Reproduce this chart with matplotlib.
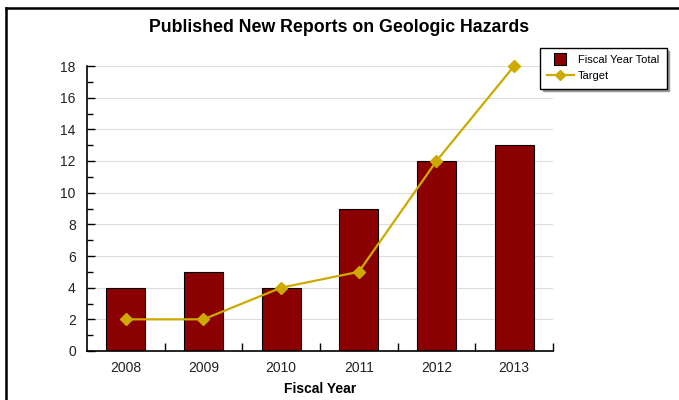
import matplotlib
matplotlib.use("Agg")
import matplotlib.pyplot as plt
from matplotlib.lines import Line2D
from matplotlib.ticker import MultipleLocator

years = ["2008", "2009", "2010", "2011", "2012", "2013"]
fiscal_total = [4, 5, 4, 9, 12, 13]
target = [2, 2, 4, 5, 12, 18]

plt.rcParams['font.family'] = ['Liberation Sans', 'DejaVu Sans']

fig = plt.figure(figsize=(6.79, 4.0), dpi=100)
ax = fig.add_axes([0.128, 0.1225, 0.6864, 0.7125])

bar_color = '#8B0000'
line_color = '#CCAA00'

x = list(range(len(years)))
ax.bar(x, fiscal_total, width=0.5, color=bar_color, edgecolor='black', linewidth=0.8, zorder=2)
ax.plot(x, target, color=line_color, linewidth=1.6, marker='D', markersize=6,
        zorder=3, clip_on=False)

ax.set_xlim(-0.5, len(years) - 0.5)
ax.set_ylim(0, 18)
ax.yaxis.set_major_locator(MultipleLocator(2))
ax.yaxis.set_minor_locator(MultipleLocator(1))
ax.set_xticks([i + 0.5 for i in range(len(years))])
ax.set_xticklabels([])
ax.set_xticks(x, minor=True)
ax.set_xticklabels(years, minor=True)
ax.tick_params(axis='x', which='major', direction='in', length=6, width=1, color='black')
ax.tick_params(axis='x', which='minor', length=0, labelsize=10, pad=7, labelcolor='#222222')
ax.tick_params(axis='y', which='major', direction='in', length=6, width=1, labelsize=10,
               pad=8, labelcolor='#222222')
ax.tick_params(axis='y', which='minor', direction='in', length=4, width=1)
ax.grid(axis='y', which='major', color='#dddddd', linewidth=0.8, zorder=0)
ax.set_axisbelow(True)
for s in ['top', 'right']:
    ax.spines[s].set_visible(False)
for s in ['left', 'bottom']:
    ax.spines[s].set_linewidth(1.2)

ax.set_xlabel('Fiscal Year', fontsize=10, fontweight='bold', labelpad=5)
fig.text(0.5, 0.93, 'Published New Reports on Geologic Hazards', ha='center', va='center',
         fontsize=12.8, fontweight='bold')

handles = [
    Line2D([], [], linestyle='none', marker='s', markersize=8, markerfacecolor=bar_color,
           markeredgecolor='black', markeredgewidth=0.8),
    Line2D([], [], color=line_color, linewidth=1.6, marker='D', markersize=5),
]
labels = ['Fiscal Year Total', 'Target']
leg = fig.legend(handles, labels, loc='upper left', bbox_to_anchor=(0.795, 0.88), fontsize=8,
                 fancybox=False, shadow={'color': '#999999', 'alpha': 1},
                 edgecolor='black', framealpha=1, borderpad=0.65, handlelength=2.4,
                 labelspacing=0.55, handletextpad=0.4, borderaxespad=0)
leg.get_frame().set_linewidth(1)

fig.add_artist(Line2D([0.009, 0.009], [0, 0.98], transform=fig.transFigure, color='black', linewidth=1.8))
fig.add_artist(Line2D([0.009, 1.0], [0.98, 0.98], transform=fig.transFigure, color='black', linewidth=1.8))

fig.savefig('out.png', dpi=100)
